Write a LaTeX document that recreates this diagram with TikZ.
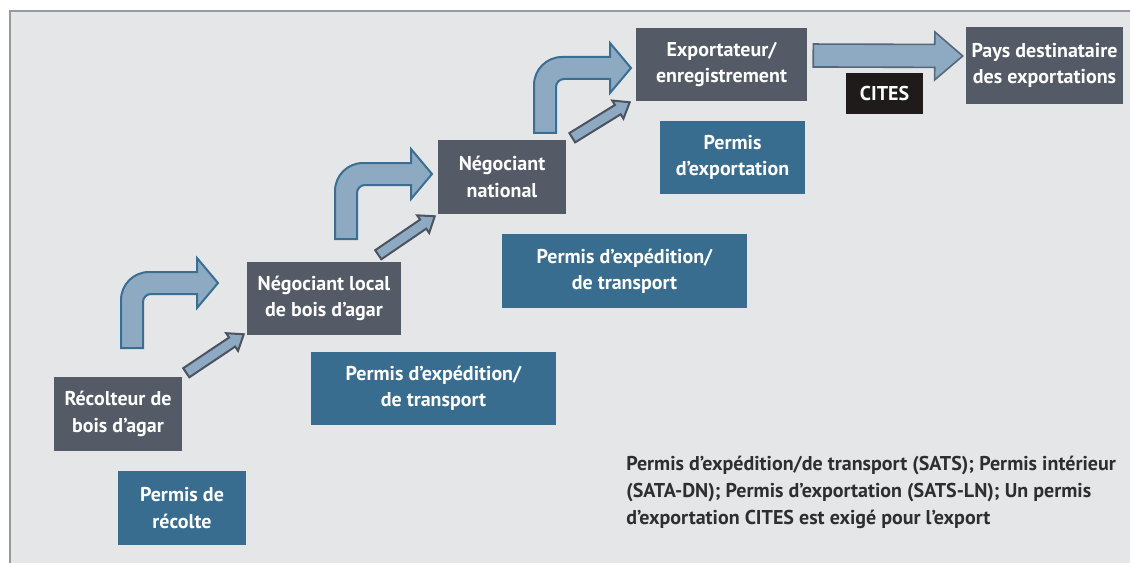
\documentclass[tikz,border=0pt]{standalone}
\usepackage{fontspec}
\setmainfont{PT Sans}
\usetikzlibrary{calc}
\definecolor{bgc}{HTML}{E5E6E8}
\definecolor{framec}{HTML}{9599A1}
\definecolor{slate}{HTML}{545A66}
\definecolor{permitc}{HTML}{386D8F}
\definecolor{citesc}{HTML}{1F1B1B}
\definecolor{arrowfill}{HTML}{8EAAC3}
\definecolor{arrowline}{HTML}{3A6E92}
\definecolor{smallline}{HTML}{4C5360}
\definecolor{bigline}{HTML}{56677A}
\definecolor{notetext}{HTML}{2E2E2E}
% #1 style, #2 tail, #3 tip, #4 shaft half width, #5 head half width, #6 head length
\newcommand\blockarrow[6]{%
  \coordinate (hb) at ($(#3)!#6!(#2)$);
  \draw[#1] ($(#2)!#4!90:(#3)$) -- ($(hb)!#4!-90:(#2)$) -- ($(hb)!#5!-90:(#2)$) -- (#3)
    -- ($(hb)!#5!90:(#2)$) -- ($(hb)!#4!90:(#2)$) -- ($(#2)!#4!-90:(#3)$) -- cycle;}
\begin{document}
\begin{tikzpicture}[x=0.75pt,y=-0.75pt,
  txt/.style={text=white, font=\bfseries\fontsize{15}{19.8}\selectfont, align=center, inner sep=0pt},
  actor/.style={txt, fill=slate},
  permit/.style={txt, fill=permitc},
  citesbox/.style={txt, fill=citesc},
  sz/.style 2 args={minimum width=#1*0.75pt, minimum height=#2*0.75pt},
  bentarrow/.style={fill=arrowfill, draw=arrowline, line width=1.5pt, line join=miter},
  smallarr/.style={fill=arrowfill, draw=smallline, line width=1.5pt, line join=miter},
  bigarr/.style={fill=arrowfill, draw=bigline, line width=1.2pt, line join=miter},
  note/.style={text=notetext, font=\bfseries\fontsize{15}{20}\selectfont, align=left, inner sep=0pt},
  bent/.pic={\draw[bentarrow] (0,0) -- (0,-48) arc[start angle=180,end angle=270,radius=28]
      -- (76,-76) -- (76,-90) -- (97,-65) -- (76,-40) -- (76,-54) -- (30,-54)
      arc[start angle=270,end angle=180,radius=8] -- (22,0) -- cycle;}
]
\useasboundingbox (0,0) rectangle (1130,563);
\fill[white] (0,0) rectangle (1130,563);
\fill[bgc] (10,11) rectangle (1130,563);
\draw[framec, line width=1.2pt] (10,563) -- (10,11) -- (1130,11);

% bent arrows
\pic at (121,348) {bent};
\pic at (335,239) {bent};
\pic at (534,133) {bent};

% nodes
\node[actor, sz={128}{74}] (rec) at (118,414) {Récolteur de\\bois d’agar};
\node[permit, sz={128}{74}] (prec) at (182,508) {Permis de\\récolte};
\node[actor, sz={154}{73}] (loc) at (324,298.5) {Négociant local\\de bois d’agar};
\node[permit, sz={245}{73}] (pexp1) at (433.5,388.5) {Permis d’expédition/\\de transport};
\node[actor, sz={128}{74}] (nat) at (502,177) {Négociant\\national};
\node[permit, sz={245}{74}] (pexp2) at (624.5,271) {Permis d’expédition/\\de transport};
\node[actor, sz={171}{73}] (exp) at (721.5,64.5) {Exportateur/\\enregistrement};
\node[permit, sz={145}{73}] (pexport) at (732.5,157.5) {Permis\\d’exportation};
\node[citesbox, sz={77}{41}] (cites) at (884.5,93.5) {CITES};
\node[actor, sz={157}{77}] (pays) at (1044.5,65.5) {Pays destinataire\\des exportations};

% small diagonal arrows
\coordinate (ta) at ($(rec.north east)+(4,-4)$);
\coordinate (pa) at ($(loc.south west)+(-3,-1)$);
\blockarrow{smallarr}{ta}{pa}{4.1pt}{8pt}{10.5pt}
\coordinate (tb) at ($(loc.north east)+(-23,-7)$);
\coordinate (pb) at ($(nat.south west)+(-3,2)$);
\blockarrow{smallarr}{tb}{pb}{4.1pt}{8pt}{10.5pt}
\coordinate (tc) at ($(nat.north east)+(6,-2)$);
\coordinate (pc) at ($(exp.south west)+(-6,1)$);
\blockarrow{smallarr}{tc}{pc}{4.1pt}{8pt}{10.5pt}

% big export arrow
\coordinate (te) at ($(exp.east)+(6,-9)$);
\coordinate (pe) at ($(pays.west)+(-3,-9.5)$);
\blockarrow{bigarr}{te}{pe}{8.6pt}{18pt}{21pt}

% note
\node[note, anchor=north west] (legend) at (626,456) {Permis d’expédition/de transport (SATS); Permis intérieur\\(SATA-DN); Permis d’exportation (SATS-LN); Un permis\\d’exportation CITES est exigé pour l’export};
\end{tikzpicture}
\end{document}
